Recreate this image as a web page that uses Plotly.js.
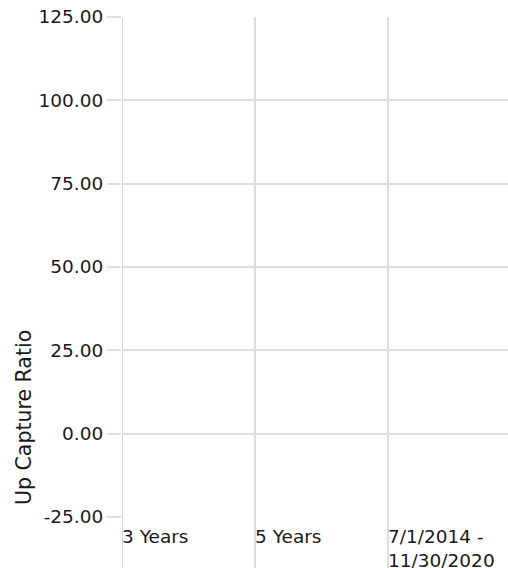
<!DOCTYPE html>
<html>
<head>
<meta charset="utf-8">
<script src="https://cdn.plot.ly/plotly-3.0.1.min.js"></script>
<style>html,body{margin:0;padding:0;background:#fff;}#chart{width:508px;height:568px;}</style>
</head>
<body>
<div id="chart"></div>
<script>
// Data
var categories = ["3 Years", "5 Years", "7/1/2014 -<br>11/30/2020"];
var upCapture = [null, null, null];
var yTickVals = [-25, 0, 25, 50, 75, 100, 125];
var yTickText = ["-25.00", "0.00", "25.00", "50.00", "75.00", "100.00", "125.00"];
var yTitle = "Up Capture Ratio";

var gridColor = "#dddddd";
var fontFam = "DejaVu Sans, Verdana, sans-serif";
var txtColor = "#1a1a1a";

var trace = {
  type: "bar",
  x: categories,
  y: upCapture,
  marker: {color: "#1f77b4"},
  showlegend: false,
  hoverinfo: "skip"
};

var shapes = categories.map(function (c) {
  return {
    type: "line", layer: "below",
    xref: "x", x0: c, x1: c,
    yref: "paper", y0: -0.102, y1: 1,
    line: {color: gridColor, width: 2}
  };
});

var layout = {
  width: 508, height: 568,
  margin: {l: 122, r: 0, t: 17, b: 51, pad: 0},
  paper_bgcolor: "#ffffff",
  plot_bgcolor: "#ffffff",
  font: {family: fontFam, size: 18.5, color: txtColor},
  xaxis: {
    type: "category",
    categoryorder: "array",
    categoryarray: categories,
    range: [0, 2.902],
    showgrid: false,
    zeroline: false,
    showline: false,
    ticks: "",
    ticklabelposition: "outside right",
    ticklabelstandoff: 6,
    tickfont: {family: fontFam, size: 18.5, color: txtColor},
    fixedrange: true
  },
  yaxis: {
    range: [-25, 125],
    tickvals: yTickVals,
    ticktext: yTickText,
    showgrid: true,
    gridcolor: gridColor,
    gridwidth: 2,
    zeroline: false,
    showline: false,
    ticks: "outside",
    ticklen: 14,
    tickwidth: 2,
    tickcolor: gridColor,
    tickfont: {family: fontFam, size: 18.5, color: txtColor},
    fixedrange: true
  },
  shapes: shapes,
  annotations: [{
    text: yTitle,
    xref: "paper", yref: "paper",
    x: -0.2539, y: 0.2,
    xanchor: "center", yanchor: "middle",
    textangle: -90,
    showarrow: false,
    font: {family: fontFam, size: 20.5, color: txtColor}
  }]
};

Plotly.newPlot("chart", [trace], layout, {displayModeBar: false, staticPlot: true});
</script>
</body>
</html>
